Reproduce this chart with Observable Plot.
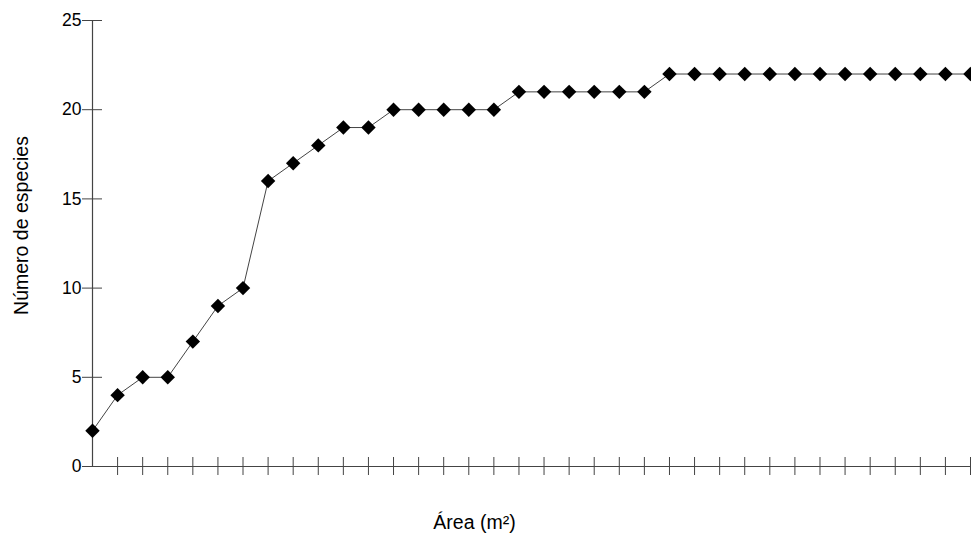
<!DOCTYPE html>
<html>
<head>
<meta charset="utf-8">
<script src="https://cdn.jsdelivr.net/npm/d3@7"></script>
<script src="https://cdn.jsdelivr.net/npm/@observablehq/plot@0.6"></script>
<style>
  html, body { margin: 0; padding: 0; background: #fff; }
</style>
</head>
<body>
<div id="chart"></div>
<script>
// Data: cumulative species count per sampled area step
const areaIndex = d3.range(0, 36);
const species = [2, 4, 5, 5, 7, 9, 10, 16, 17, 18, 19, 19, 20, 20, 20, 20, 20,
                 21, 21, 21, 21, 21, 21,
                 22, 22, 22, 22, 22, 22, 22, 22, 22, 22, 22, 22, 22];
const yTicks = [0, 5, 10, 15, 20, 25];
const xTicks = d3.range(1, 36);
const xLabel = ["Área (m²)"];
const yLabel = ["Número de especies"];

const data = areaIndex.map((a, i) => ({area: a, n: species[i]}));

const chart = Plot.plot({
  width: 971,
  height: 537,
  marginLeft: 92,
  marginRight: 1,
  marginTop: 20,
  marginBottom: 71,
  style: {fontFamily: "'Liberation Sans', Arial, sans-serif", fontSize: "17.5px", color: "#000", background: "#fff"},
  x: {domain: [0, 35], axis: null},
  y: {domain: [0, 25], axis: null},
  marks: [
    Plot.ruleY([0], {x1: 0, x2: 35, stroke: "#444", strokeWidth: 1.2}),
    Plot.ruleX([0], {y1: 0, y2: 25, stroke: "#444", strokeWidth: 1.2}),
    Plot.axisY({ticks: yTicks, anchor: "left", tickSize: 20, dx: 10, tickPadding: 1, stroke: "#444", fontSize: 17.5, label: null}),
    Plot.axisX({ticks: xTicks, anchor: "bottom", tickSize: 18, dy: -9, tickFormat: () => "", stroke: "#444", label: null}),
    Plot.line(data, {x: "area", y: "n", stroke: "#444", strokeWidth: 1}),
    Plot.dot(data, {x: "area", y: "n", symbol: "diamond2", r: 6.5, fill: "#000", stroke: "none"}),
    Plot.text(yLabel, {text: d => d, frameAnchor: "left", textAnchor: "middle", lineAnchor: "middle", dx: -71, dy: -18, rotate: -90, fontSize: 19.5, fill: "#000"}),
    Plot.text(xLabel, {text: d => d, frameAnchor: "bottom", textAnchor: "middle", lineAnchor: "middle", dx: -57, dy: 56, fontSize: 19.5, fill: "#000"})
  ]
});
document.getElementById("chart").appendChild(chart);
</script>
</body>
</html>
